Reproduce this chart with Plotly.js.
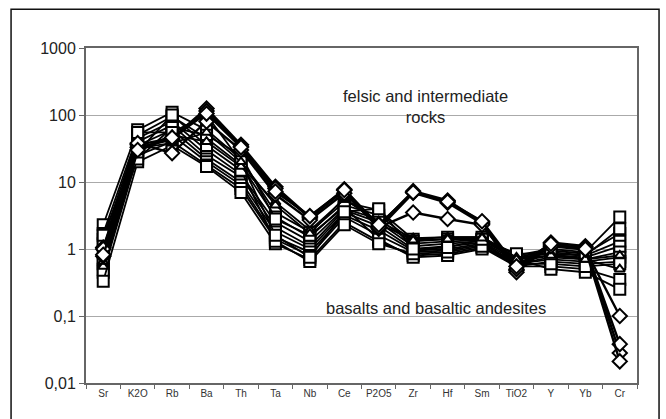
<!DOCTYPE html>
<html>
<head>
<meta charset="utf-8">
<script src="https://cdn.plot.ly/plotly-3.0.1.min.js"></script>
<style>html,body{margin:0;padding:0;background:#fff}#chart{width:666px;height:419px}</style>
</head>
<body>
<div id="chart"></div>
<script>
const categories = ["Sr","K2O","Rb","Ba","Th","Ta","Nb","Ce","P2O5","Zr","Hf","Sm","TiO2","Y","Yb","Cr"];
const yTickVals = [0.01, 0.1, 1, 10, 100, 1000];
const yTickText = ["0,01", "0,1", "1", "10", "100", "1000"];

// felsic and intermediate rocks (diamonds)
const fel1 = [1.05, 36, 45, 125, 36, 8.5, 3.0, 7.8, 2.2, 7.3, 5.3, 2.5, 0.48, 1.25, 1.1, 0.028];
const fel2 = [0.78, 33, 43, 115, 34, 8.0, 2.9, 7.5, 2.0, 6.9, 4.9, 2.4, 0.45, 1.15, 1.05, 0.038];
const fel3 = [1.0, 38, 27, 80, 30, 6.5, 2.7, 6.8, 2.1, 3.5, 2.8, 2.3, 0.5, 1.1, 0.98, 0.1];
const fel4 = [0.82, 30, 46, 105, 33, 7.2, 3.1, 7.6, 2.3, 7.0, 5.1, 2.6, 0.55, 1.2, 1.0, 0.021];

// basalts and basaltic andesites (squares)
const bas1 = [2.3, 60, 110, 60, 22, 3.5, 1.8, 5.0, 3.8, 1.4, 1.5, 1.5, 0.8, 1.0, 0.9, 3.0];
const bas2 = [1.7, 50, 95, 45, 18, 3.0, 1.5, 4.5, 3.2, 1.3, 1.4, 1.4, 0.75, 0.95, 0.85, 1.7];
const bas3 = [1.4, 45, 80, 30, 13, 2.5, 1.3, 4.0, 2.8, 1.2, 1.3, 1.35, 0.7, 0.9, 0.8, 1.3];
const bas4 = [1.2, 40, 70, 25, 12, 2.1, 1.1, 3.8, 2.5, 1.1, 1.2, 1.3, 0.65, 0.8, 0.75, 1.1];
const bas5 = [0.6, 35, 60, 22, 10, 1.8, 1.0, 3.5, 2.2, 1.0, 1.1, 1.25, 0.6, 0.75, 0.7, 0.9];
const bas6 = [0.5, 30, 50, 20, 9, 1.5, 0.9, 3.2, 1.9, 0.95, 1.0, 1.2, 0.6, 0.7, 0.65, 0.75];
const bas7 = [0.45, 25, 40, 18, 8, 1.4, 0.8, 3.0, 1.6, 0.9, 0.95, 1.15, 0.55, 0.65, 0.6, 0.65];
const bas8 = [0.33, 20, 35, 17, 7, 1.2, 0.7, 2.5, 1.3, 0.8, 0.85, 1.05, 0.55, 0.55, 0.5, 0.35];
const bas9 = [0.9, 22, 65, 50, 25, 2.8, 1.6, 4.2, 1.4, 0.75, 0.8, 1.0, 0.7, 0.5, 0.45, 0.25];
const bas10 = [1.6, 28, 100, 35, 15, 1.3, 0.65, 2.3, 1.2, 0.85, 0.9, 1.1, 0.6, 0.6, 0.55, 0.6];
const bas11 = [0.7, 55, 55, 100, 20, 1.6, 0.75, 3.6, 4.0, 1.0, 1.05, 1.4, 0.85, 0.85, 0.8, 2.0];
// triangles
const bas12 = [0.55, 28, 50, 40, 17, 5.0, 1.9, 5.5, 2.6, 1.45, 1.5, 1.5, 0.75, 0.85, 0.7, 0.8];
const bas13 = [0.65, 32, 38, 55, 20, 4.5, 1.7, 5.8, 2.4, 1.35, 1.4, 1.45, 0.7, 0.8, 0.7, 0.5];

const squareSeries = [bas1, bas2, bas3, bas4, bas5, bas6, bas7, bas8, bas9, bas10, bas11];
const triangleSeries = [bas12, bas13];
const diamondSeries = [fel1, fel2, fel3, fel4];

function mk(vals, symbol, size, lw) {
  return {
    x: categories, y: vals, type: "scatter", mode: "lines+markers",
    line: {color: "#000", width: lw},
    marker: {symbol: symbol, size: size, color: "#fff", line: {color: "#000", width: 2}},
    hoverinfo: "skip", showlegend: false, cliponaxis: false
  };
}
const traces = [];
squareSeries.forEach(s => traces.push(mk(s, "square", 11, 1.8)));
triangleSeries.forEach(s => traces.push(mk(s, "triangle-up", 9, 1.8)));
diamondSeries.forEach(s => traces.push(mk(s, "diamond", 11, 2.4)));

const layout = {
  width: 666, height: 419,
  margin: {l: 86, r: 29, t: 48, b: 36},
  paper_bgcolor: "#fff", plot_bgcolor: "#fff",
  font: {family: "Arial, Liberation Sans, sans-serif", color: "#222"},
  xaxis: {
    type: "category", range: [-0.5, 15.5],
    showline: true, mirror: true, linecolor: "#666", linewidth: 2,
    showgrid: false, ticks: "outside", tickson: "boundaries", ticklen: 4, tickcolor: "#666",
    tickangle: 0, tickfont: {size: 10, color: "#333"}
  },
  yaxis: {
    type: "log", range: [-2, 3],
    tickvals: yTickVals, ticktext: yTickText,
    showline: true, mirror: true, linecolor: "#666", linewidth: 2,
    showgrid: true, gridcolor: "#aaa", gridwidth: 1,
    ticks: "outside", ticklen: 5, tickcolor: "#666",
    tickfont: {size: 16, color: "#222"}, zeroline: false
  },
  annotations: [
    {x: 9.35, y: 2.12, xref: "x", yref: "y", text: "felsic and intermediate<br>rocks",
     showarrow: false, font: {size: 16.5, color: "#222"}, align: "center"},
    {x: 9.65, y: -0.88, xref: "x", yref: "y", text: "basalts and basaltic andesites",
     showarrow: false, font: {size: 16.5, color: "#222"}}
  ],
  shapes: [
    {type: "rect", xref: "paper", yref: "paper", x0: -0.136, x1: 1.04, y0: -0.2, y1: 1.116,
     line: {color: "#111", width: 1.5}, fillcolor: "rgba(0,0,0,0)"}
  ]
};
Plotly.newPlot("chart", traces, layout, {staticPlot: true});
</script>
</body>
</html>
